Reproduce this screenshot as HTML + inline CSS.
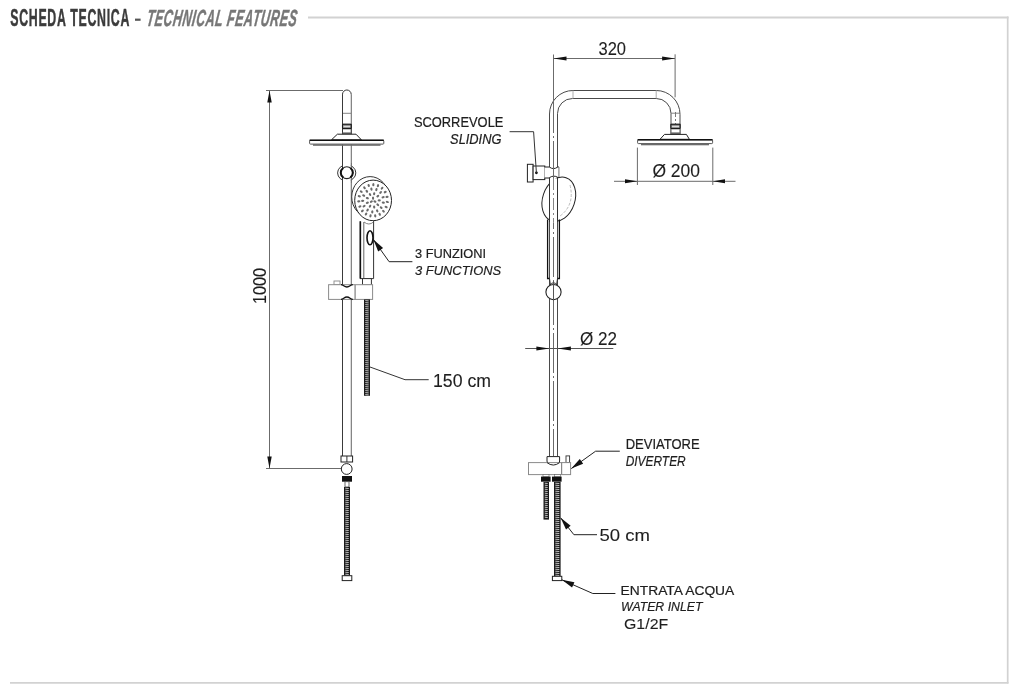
<!DOCTYPE html><html><head><meta charset="utf-8"><style>html,body{margin:0;padding:0;background:#fff;width:1024px;height:698px;overflow:hidden}svg{display:block;will-change:transform}text{font-family:"Liberation Sans",sans-serif}</style></head><body>
<svg width="1024" height="698" viewBox="0 0 1024 698">
<g fill="none" stroke="#d2d2d2">
<line x1="308" y1="17.6" x2="1008.5" y2="17.6" stroke-width="2"/>
<line x1="1007.7" y1="16.6" x2="1007.7" y2="683.6" stroke-width="1.7"/>
<line x1="10" y1="682.8" x2="1008.5" y2="682.8" stroke-width="1.7"/>
</g>
<text transform="translate(10.2 25.8) scale(0.53 1)" x="0" y="0" font-size="23.3" font-weight="bold" fill="#3b3b3b" stroke="#3b3b3b" stroke-width="0.5" textLength="224.9" lengthAdjust="spacing">SCHEDA TECNICA</text>
<rect x="135" y="18.6" width="5.6" height="2.2" fill="#555"/>
<text transform="translate(145.9 25.8) skewX(-8) scale(0.53 1)" x="0" y="0" font-size="23.3" font-weight="bold" font-style="italic" fill="#777" stroke="#777" stroke-width="0.5" textLength="283.4" lengthAdjust="spacing">TECHNICAL FEATURES</text>
<g stroke="#6b6b6b" stroke-width="1" fill="none">
<line x1="269.5" y1="91" x2="269.5" y2="468"/>
<line x1="266" y1="90.5" x2="343" y2="90.5"/>
<line x1="266" y1="468.5" x2="341" y2="468.5"/>
</g>
<polygon points="269.50,90.50 271.70,102.50 267.30,102.50" fill="#111"/>
<polygon points="269.50,468.50 267.30,456.50 271.70,456.50" fill="#111"/>
<text transform="translate(266,304) rotate(-90)" font-size="18" fill="#1e1e1e" stroke="#1e1e1e" stroke-width="0.1" textLength="36" lengthAdjust="spacingAndGlyphs">1000</text>
<path d="M342.5 456 V94.35 A4.35 4.35 0 0 1 351.2 94.35" stroke="#333" stroke-width="1" fill="none"/>
<line x1="342.5" y1="94.35" x2="342.5" y2="456" stroke="#3a3a3a" stroke-width="1"/>
<line x1="351.3" y1="94.35" x2="351.3" y2="456" stroke="#707070" stroke-width="1.1"/>
<line x1="343" y1="113.3" x2="351" y2="113.3" stroke="#777" stroke-width="0.9"/>
<rect x="342.5" y="124.3" width="8.70" height="9.9" fill="#fff" stroke="#333" stroke-width="1"/>
<rect x="342.5" y="124.3" width="8.70" height="4.3" rx="0.8" fill="#8a8a8a" stroke="#1a1a1a" stroke-width="1.1"/>
<rect x="343.50" y="125.9" width="6.70" height="1.2" fill="#ddd"/>
<rect x="342.5" y="132.4" width="8.70" height="1.9" fill="#666"/>
<polygon points="337.4,134.2 356,134.2 361.4,139.8 331.5,139.8" fill="#fff" stroke="#222" stroke-width="1"/>
<rect x="309.6" y="140.3" width="74.2" height="3.8" rx="0.8" fill="#fff" stroke="#555" stroke-width="1"/>
<line x1="309.6" y1="140.3" x2="383.8" y2="140.3" stroke="#111" stroke-width="1.4"/>
<rect x="313" y="144.2" width="67.5" height="1.6" fill="#6a6a6a"/>
<ellipse cx="346.7" cy="172.9" rx="9.1" ry="8.1" fill="#fff" stroke="#333" stroke-width="1"/>
<rect x="343" y="163" width="7.8" height="20" fill="#fff"/>
<line x1="342.5" y1="163" x2="342.5" y2="183" stroke="#3a3a3a" stroke-width="1"/>
<line x1="351.3" y1="163" x2="351.3" y2="183" stroke="#707070" stroke-width="1.1"/>
<ellipse cx="346.8" cy="172.7" rx="6.1" ry="5.9" fill="#fff" stroke="#222" stroke-width="1.1"/>
<path d="M343.2 168 A6.1 5.9 0 0 0 343.2 177.4" stroke="#111" stroke-width="2" fill="none"/>
<path d="M350.4 168 A6.1 5.9 0 0 1 350.4 177.4" stroke="#111" stroke-width="2" fill="none"/>
<ellipse cx="370.1" cy="196.9" rx="18.4" ry="20.3" fill="#fff" stroke="#333" stroke-width="1"/>
<ellipse cx="373.1" cy="200.4" rx="18.4" ry="20.3" fill="#fff" stroke="#222" stroke-width="1"/>
<ellipse cx="374.90" cy="201.48" rx="1.1" ry="1.6" transform="rotate(118.6 374.90 201.48)" fill="#6a6a6a"/>
<ellipse cx="371.35" cy="201.57" rx="1.1" ry="1.6" transform="rotate(238.6 371.35 201.57)" fill="#6a6a6a"/>
<ellipse cx="373.05" cy="198.16" rx="1.1" ry="1.6" transform="rotate(358.6 373.05 198.16)" fill="#6a6a6a"/>
<ellipse cx="379.24" cy="200.40" rx="1.1" ry="1.6" transform="rotate(90.0 379.24 200.40)" fill="#6a6a6a"/>
<ellipse cx="377.80" cy="204.73" rx="1.1" ry="1.6" transform="rotate(130.0 377.80 204.73)" fill="#6a6a6a"/>
<ellipse cx="374.17" cy="207.03" rx="1.1" ry="1.6" transform="rotate(170.0 374.17 207.03)" fill="#6a6a6a"/>
<ellipse cx="370.03" cy="206.23" rx="1.1" ry="1.6" transform="rotate(210.0 370.03 206.23)" fill="#6a6a6a"/>
<ellipse cx="367.33" cy="202.70" rx="1.1" ry="1.6" transform="rotate(250.0 367.33 202.70)" fill="#6a6a6a"/>
<ellipse cx="367.33" cy="198.10" rx="1.1" ry="1.6" transform="rotate(290.0 367.33 198.10)" fill="#6a6a6a"/>
<ellipse cx="370.03" cy="194.57" rx="1.1" ry="1.6" transform="rotate(330.0 370.03 194.57)" fill="#6a6a6a"/>
<ellipse cx="374.17" cy="193.77" rx="1.1" ry="1.6" transform="rotate(370.0 374.17 193.77)" fill="#6a6a6a"/>
<ellipse cx="377.80" cy="196.07" rx="1.1" ry="1.6" transform="rotate(410.0 377.80 196.07)" fill="#6a6a6a"/>
<ellipse cx="383.31" cy="202.67" rx="1.1" ry="1.6" transform="rotate(101.5 383.31 202.67)" fill="#6a6a6a"/>
<ellipse cx="381.18" cy="207.61" rx="1.1" ry="1.6" transform="rotate(129.2 381.18 207.61)" fill="#6a6a6a"/>
<ellipse cx="377.20" cy="210.90" rx="1.1" ry="1.6" transform="rotate(156.8 377.20 210.90)" fill="#6a6a6a"/>
<ellipse cx="372.28" cy="211.79" rx="1.1" ry="1.6" transform="rotate(184.5 372.28 211.79)" fill="#6a6a6a"/>
<ellipse cx="367.55" cy="210.06" rx="1.1" ry="1.6" transform="rotate(212.2 367.55 210.06)" fill="#6a6a6a"/>
<ellipse cx="364.09" cy="206.13" rx="1.1" ry="1.6" transform="rotate(239.9 364.09 206.13)" fill="#6a6a6a"/>
<ellipse cx="362.69" cy="200.88" rx="1.1" ry="1.6" transform="rotate(267.6 362.69 200.88)" fill="#6a6a6a"/>
<ellipse cx="363.68" cy="195.52" rx="1.1" ry="1.6" transform="rotate(295.3 363.68 195.52)" fill="#6a6a6a"/>
<ellipse cx="366.83" cy="191.28" rx="1.1" ry="1.6" transform="rotate(323.0 366.83 191.28)" fill="#6a6a6a"/>
<ellipse cx="371.41" cy="189.13" rx="1.1" ry="1.6" transform="rotate(350.7 371.41 189.13)" fill="#6a6a6a"/>
<ellipse cx="376.38" cy="189.56" rx="1.1" ry="1.6" transform="rotate(378.4 376.38 189.56)" fill="#6a6a6a"/>
<ellipse cx="380.60" cy="192.47" rx="1.1" ry="1.6" transform="rotate(406.1 380.60 192.47)" fill="#6a6a6a"/>
<ellipse cx="383.10" cy="197.21" rx="1.1" ry="1.6" transform="rotate(433.8 383.10 197.21)" fill="#6a6a6a"/>
<ellipse cx="387.35" cy="201.97" rx="1.1" ry="1.6" transform="rotate(95.7 387.35 201.97)" fill="#6a6a6a"/>
<ellipse cx="386.11" cy="206.96" rx="1.1" ry="1.6" transform="rotate(114.7 386.11 206.96)" fill="#6a6a6a"/>
<ellipse cx="383.47" cy="211.24" rx="1.1" ry="1.6" transform="rotate(133.6 383.47 211.24)" fill="#6a6a6a"/>
<ellipse cx="379.70" cy="214.34" rx="1.1" ry="1.6" transform="rotate(152.6 379.70 214.34)" fill="#6a6a6a"/>
<ellipse cx="375.21" cy="215.94" rx="1.1" ry="1.6" transform="rotate(171.5 375.21 215.94)" fill="#6a6a6a"/>
<ellipse cx="370.50" cy="215.85" rx="1.1" ry="1.6" transform="rotate(190.5 370.50 215.85)" fill="#6a6a6a"/>
<ellipse cx="366.07" cy="214.08" rx="1.1" ry="1.6" transform="rotate(209.4 366.07 214.08)" fill="#6a6a6a"/>
<ellipse cx="362.40" cy="210.84" rx="1.1" ry="1.6" transform="rotate(228.4 362.40 210.84)" fill="#6a6a6a"/>
<ellipse cx="359.89" cy="206.46" rx="1.1" ry="1.6" transform="rotate(247.3 359.89 206.46)" fill="#6a6a6a"/>
<ellipse cx="358.81" cy="201.43" rx="1.1" ry="1.6" transform="rotate(266.3 358.81 201.43)" fill="#6a6a6a"/>
<ellipse cx="359.28" cy="196.28" rx="1.1" ry="1.6" transform="rotate(285.2 359.28 196.28)" fill="#6a6a6a"/>
<ellipse cx="361.25" cy="191.58" rx="1.1" ry="1.6" transform="rotate(304.2 361.25 191.58)" fill="#6a6a6a"/>
<ellipse cx="364.50" cy="187.84" rx="1.1" ry="1.6" transform="rotate(323.1 364.50 187.84)" fill="#6a6a6a"/>
<ellipse cx="368.69" cy="185.46" rx="1.1" ry="1.6" transform="rotate(342.0 368.69 185.46)" fill="#6a6a6a"/>
<ellipse cx="373.35" cy="184.69" rx="1.1" ry="1.6" transform="rotate(361.0 373.35 184.69)" fill="#6a6a6a"/>
<ellipse cx="377.98" cy="185.63" rx="1.1" ry="1.6" transform="rotate(379.9 377.98 185.63)" fill="#6a6a6a"/>
<ellipse cx="382.09" cy="188.17" rx="1.1" ry="1.6" transform="rotate(398.9 382.09 188.17)" fill="#6a6a6a"/>
<ellipse cx="385.22" cy="192.04" rx="1.1" ry="1.6" transform="rotate(417.8 385.22 192.04)" fill="#6a6a6a"/>
<ellipse cx="387.04" cy="196.81" rx="1.1" ry="1.6" transform="rotate(436.8 387.04 196.81)" fill="#6a6a6a"/>
<path d="M360.2 221 V278.6 H373.6 V221" fill="#fff" stroke="#333" stroke-width="1"/>
<line x1="360.4" y1="221.5" x2="360.4" y2="278.6" stroke="#111" stroke-width="1.5"/>
<line x1="363.8" y1="222" x2="363.8" y2="278" stroke="#555" stroke-width="0.9"/>
<path d="M364 222 Q369 226 373.4 222" stroke="#666" stroke-width="0.8" fill="none"/>
<ellipse cx="370" cy="237.8" rx="3" ry="7" fill="#fff" stroke="#111" stroke-width="1.6"/>
<rect x="362.5" y="278.6" width="8.9" height="6.4" fill="#fff" stroke="#333" stroke-width="1"/>
<rect x="334" y="281" width="6" height="3.7" fill="#fff" stroke="#888" stroke-width="0.9"/>
<rect x="328.6" y="284.7" width="44" height="14.7" fill="#fff" stroke="#8a8a8a" stroke-width="1"/>
<line x1="355.1" y1="284.7" x2="355.1" y2="299.4" stroke="#888" stroke-width="1.3"/>
<path d="M341 284.7 C343.5 284.7 344 287 346.9 287 C349.8 287 350.3 284.7 352.8 284.7" stroke="#111" stroke-width="1.3" fill="none"/>
<path d="M341 299.4 C343.5 299.4 344 297 346.9 297 C349.8 297 350.3 299.4 352.8 299.4" stroke="#111" stroke-width="1.3" fill="none"/>
<rect x="364" y="299.4" width="6" height="96.40000000000003" fill="#1a1a1a"/>
<line x1="365.30" y1="300.60" x2="368.70" y2="300.90" stroke="#e4e4e4" stroke-width="0.85"/>
<line x1="365.30" y1="302.60" x2="368.70" y2="302.90" stroke="#e4e4e4" stroke-width="0.85"/>
<line x1="365.30" y1="304.60" x2="368.70" y2="304.90" stroke="#e4e4e4" stroke-width="0.85"/>
<line x1="365.30" y1="306.60" x2="368.70" y2="306.90" stroke="#e4e4e4" stroke-width="0.85"/>
<line x1="365.30" y1="308.60" x2="368.70" y2="308.90" stroke="#e4e4e4" stroke-width="0.85"/>
<line x1="365.30" y1="310.60" x2="368.70" y2="310.90" stroke="#e4e4e4" stroke-width="0.85"/>
<line x1="365.30" y1="312.60" x2="368.70" y2="312.90" stroke="#e4e4e4" stroke-width="0.85"/>
<line x1="365.30" y1="314.60" x2="368.70" y2="314.90" stroke="#e4e4e4" stroke-width="0.85"/>
<line x1="365.30" y1="316.60" x2="368.70" y2="316.90" stroke="#e4e4e4" stroke-width="0.85"/>
<line x1="365.30" y1="318.60" x2="368.70" y2="318.90" stroke="#e4e4e4" stroke-width="0.85"/>
<line x1="365.30" y1="320.60" x2="368.70" y2="320.90" stroke="#e4e4e4" stroke-width="0.85"/>
<line x1="365.30" y1="322.60" x2="368.70" y2="322.90" stroke="#e4e4e4" stroke-width="0.85"/>
<line x1="365.30" y1="324.60" x2="368.70" y2="324.90" stroke="#e4e4e4" stroke-width="0.85"/>
<line x1="365.30" y1="326.60" x2="368.70" y2="326.90" stroke="#e4e4e4" stroke-width="0.85"/>
<line x1="365.30" y1="328.60" x2="368.70" y2="328.90" stroke="#e4e4e4" stroke-width="0.85"/>
<line x1="365.30" y1="330.60" x2="368.70" y2="330.90" stroke="#e4e4e4" stroke-width="0.85"/>
<line x1="365.30" y1="332.60" x2="368.70" y2="332.90" stroke="#e4e4e4" stroke-width="0.85"/>
<line x1="365.30" y1="334.60" x2="368.70" y2="334.90" stroke="#e4e4e4" stroke-width="0.85"/>
<line x1="365.30" y1="336.60" x2="368.70" y2="336.90" stroke="#e4e4e4" stroke-width="0.85"/>
<line x1="365.30" y1="338.60" x2="368.70" y2="338.90" stroke="#e4e4e4" stroke-width="0.85"/>
<line x1="365.30" y1="340.60" x2="368.70" y2="340.90" stroke="#e4e4e4" stroke-width="0.85"/>
<line x1="365.30" y1="342.60" x2="368.70" y2="342.90" stroke="#e4e4e4" stroke-width="0.85"/>
<line x1="365.30" y1="344.60" x2="368.70" y2="344.90" stroke="#e4e4e4" stroke-width="0.85"/>
<line x1="365.30" y1="346.60" x2="368.70" y2="346.90" stroke="#e4e4e4" stroke-width="0.85"/>
<line x1="365.30" y1="348.60" x2="368.70" y2="348.90" stroke="#e4e4e4" stroke-width="0.85"/>
<line x1="365.30" y1="350.60" x2="368.70" y2="350.90" stroke="#e4e4e4" stroke-width="0.85"/>
<line x1="365.30" y1="352.60" x2="368.70" y2="352.90" stroke="#e4e4e4" stroke-width="0.85"/>
<line x1="365.30" y1="354.60" x2="368.70" y2="354.90" stroke="#e4e4e4" stroke-width="0.85"/>
<line x1="365.30" y1="356.60" x2="368.70" y2="356.90" stroke="#e4e4e4" stroke-width="0.85"/>
<line x1="365.30" y1="358.60" x2="368.70" y2="358.90" stroke="#e4e4e4" stroke-width="0.85"/>
<line x1="365.30" y1="360.60" x2="368.70" y2="360.90" stroke="#e4e4e4" stroke-width="0.85"/>
<line x1="365.30" y1="362.60" x2="368.70" y2="362.90" stroke="#e4e4e4" stroke-width="0.85"/>
<line x1="365.30" y1="364.60" x2="368.70" y2="364.90" stroke="#e4e4e4" stroke-width="0.85"/>
<line x1="365.30" y1="366.60" x2="368.70" y2="366.90" stroke="#e4e4e4" stroke-width="0.85"/>
<line x1="365.30" y1="368.60" x2="368.70" y2="368.90" stroke="#e4e4e4" stroke-width="0.85"/>
<line x1="365.30" y1="370.60" x2="368.70" y2="370.90" stroke="#e4e4e4" stroke-width="0.85"/>
<line x1="365.30" y1="372.60" x2="368.70" y2="372.90" stroke="#e4e4e4" stroke-width="0.85"/>
<line x1="365.30" y1="374.60" x2="368.70" y2="374.90" stroke="#e4e4e4" stroke-width="0.85"/>
<line x1="365.30" y1="376.60" x2="368.70" y2="376.90" stroke="#e4e4e4" stroke-width="0.85"/>
<line x1="365.30" y1="378.60" x2="368.70" y2="378.90" stroke="#e4e4e4" stroke-width="0.85"/>
<line x1="365.30" y1="380.60" x2="368.70" y2="380.90" stroke="#e4e4e4" stroke-width="0.85"/>
<line x1="365.30" y1="382.60" x2="368.70" y2="382.90" stroke="#e4e4e4" stroke-width="0.85"/>
<line x1="365.30" y1="384.60" x2="368.70" y2="384.90" stroke="#e4e4e4" stroke-width="0.85"/>
<line x1="365.30" y1="386.60" x2="368.70" y2="386.90" stroke="#e4e4e4" stroke-width="0.85"/>
<line x1="365.30" y1="388.60" x2="368.70" y2="388.90" stroke="#e4e4e4" stroke-width="0.85"/>
<line x1="365.30" y1="390.60" x2="368.70" y2="390.90" stroke="#e4e4e4" stroke-width="0.85"/>
<line x1="365.30" y1="392.60" x2="368.70" y2="392.90" stroke="#e4e4e4" stroke-width="0.85"/>
<line x1="365.30" y1="394.60" x2="368.70" y2="394.90" stroke="#e4e4e4" stroke-width="0.85"/>
<rect x="341" y="456" width="11.6" height="6" fill="#fff" stroke="#222" stroke-width="1"/>
<line x1="346.9" y1="456" x2="346.9" y2="462" stroke="#333" stroke-width="1"/>
<circle cx="346.7" cy="469" r="5.4" fill="#fff" stroke="#222" stroke-width="1"/>
<rect x="342" y="476" width="10" height="5.7" fill="#111"/>
<rect x="345" y="481.7" width="4" height="5.3" fill="#fff" stroke="#444" stroke-width="0.8"/>
<rect x="344" y="487" width="6" height="88.70000000000005" fill="#1a1a1a"/>
<line x1="345.30" y1="488.20" x2="348.70" y2="488.50" stroke="#e4e4e4" stroke-width="0.85"/>
<line x1="345.30" y1="490.20" x2="348.70" y2="490.50" stroke="#e4e4e4" stroke-width="0.85"/>
<line x1="345.30" y1="492.20" x2="348.70" y2="492.50" stroke="#e4e4e4" stroke-width="0.85"/>
<line x1="345.30" y1="494.20" x2="348.70" y2="494.50" stroke="#e4e4e4" stroke-width="0.85"/>
<line x1="345.30" y1="496.20" x2="348.70" y2="496.50" stroke="#e4e4e4" stroke-width="0.85"/>
<line x1="345.30" y1="498.20" x2="348.70" y2="498.50" stroke="#e4e4e4" stroke-width="0.85"/>
<line x1="345.30" y1="500.20" x2="348.70" y2="500.50" stroke="#e4e4e4" stroke-width="0.85"/>
<line x1="345.30" y1="502.20" x2="348.70" y2="502.50" stroke="#e4e4e4" stroke-width="0.85"/>
<line x1="345.30" y1="504.20" x2="348.70" y2="504.50" stroke="#e4e4e4" stroke-width="0.85"/>
<line x1="345.30" y1="506.20" x2="348.70" y2="506.50" stroke="#e4e4e4" stroke-width="0.85"/>
<line x1="345.30" y1="508.20" x2="348.70" y2="508.50" stroke="#e4e4e4" stroke-width="0.85"/>
<line x1="345.30" y1="510.20" x2="348.70" y2="510.50" stroke="#e4e4e4" stroke-width="0.85"/>
<line x1="345.30" y1="512.20" x2="348.70" y2="512.50" stroke="#e4e4e4" stroke-width="0.85"/>
<line x1="345.30" y1="514.20" x2="348.70" y2="514.50" stroke="#e4e4e4" stroke-width="0.85"/>
<line x1="345.30" y1="516.20" x2="348.70" y2="516.50" stroke="#e4e4e4" stroke-width="0.85"/>
<line x1="345.30" y1="518.20" x2="348.70" y2="518.50" stroke="#e4e4e4" stroke-width="0.85"/>
<line x1="345.30" y1="520.20" x2="348.70" y2="520.50" stroke="#e4e4e4" stroke-width="0.85"/>
<line x1="345.30" y1="522.20" x2="348.70" y2="522.50" stroke="#e4e4e4" stroke-width="0.85"/>
<line x1="345.30" y1="524.20" x2="348.70" y2="524.50" stroke="#e4e4e4" stroke-width="0.85"/>
<line x1="345.30" y1="526.20" x2="348.70" y2="526.50" stroke="#e4e4e4" stroke-width="0.85"/>
<line x1="345.30" y1="528.20" x2="348.70" y2="528.50" stroke="#e4e4e4" stroke-width="0.85"/>
<line x1="345.30" y1="530.20" x2="348.70" y2="530.50" stroke="#e4e4e4" stroke-width="0.85"/>
<line x1="345.30" y1="532.20" x2="348.70" y2="532.50" stroke="#e4e4e4" stroke-width="0.85"/>
<line x1="345.30" y1="534.20" x2="348.70" y2="534.50" stroke="#e4e4e4" stroke-width="0.85"/>
<line x1="345.30" y1="536.20" x2="348.70" y2="536.50" stroke="#e4e4e4" stroke-width="0.85"/>
<line x1="345.30" y1="538.20" x2="348.70" y2="538.50" stroke="#e4e4e4" stroke-width="0.85"/>
<line x1="345.30" y1="540.20" x2="348.70" y2="540.50" stroke="#e4e4e4" stroke-width="0.85"/>
<line x1="345.30" y1="542.20" x2="348.70" y2="542.50" stroke="#e4e4e4" stroke-width="0.85"/>
<line x1="345.30" y1="544.20" x2="348.70" y2="544.50" stroke="#e4e4e4" stroke-width="0.85"/>
<line x1="345.30" y1="546.20" x2="348.70" y2="546.50" stroke="#e4e4e4" stroke-width="0.85"/>
<line x1="345.30" y1="548.20" x2="348.70" y2="548.50" stroke="#e4e4e4" stroke-width="0.85"/>
<line x1="345.30" y1="550.20" x2="348.70" y2="550.50" stroke="#e4e4e4" stroke-width="0.85"/>
<line x1="345.30" y1="552.20" x2="348.70" y2="552.50" stroke="#e4e4e4" stroke-width="0.85"/>
<line x1="345.30" y1="554.20" x2="348.70" y2="554.50" stroke="#e4e4e4" stroke-width="0.85"/>
<line x1="345.30" y1="556.20" x2="348.70" y2="556.50" stroke="#e4e4e4" stroke-width="0.85"/>
<line x1="345.30" y1="558.20" x2="348.70" y2="558.50" stroke="#e4e4e4" stroke-width="0.85"/>
<line x1="345.30" y1="560.20" x2="348.70" y2="560.50" stroke="#e4e4e4" stroke-width="0.85"/>
<line x1="345.30" y1="562.20" x2="348.70" y2="562.50" stroke="#e4e4e4" stroke-width="0.85"/>
<line x1="345.30" y1="564.20" x2="348.70" y2="564.50" stroke="#e4e4e4" stroke-width="0.85"/>
<line x1="345.30" y1="566.20" x2="348.70" y2="566.50" stroke="#e4e4e4" stroke-width="0.85"/>
<line x1="345.30" y1="568.20" x2="348.70" y2="568.50" stroke="#e4e4e4" stroke-width="0.85"/>
<line x1="345.30" y1="570.20" x2="348.70" y2="570.50" stroke="#e4e4e4" stroke-width="0.85"/>
<line x1="345.30" y1="572.20" x2="348.70" y2="572.50" stroke="#e4e4e4" stroke-width="0.85"/>
<line x1="345.30" y1="574.20" x2="348.70" y2="574.50" stroke="#e4e4e4" stroke-width="0.85"/>
<rect x="342.2" y="575.7" width="9.6" height="4.9" fill="#fff" stroke="#222" stroke-width="1"/>
<polyline points="373.4,239.6 389.1,261.7 412.4,261.7" fill="none" stroke="#222" stroke-width="1"/>
<polygon points="373.40,239.60 383.08,248.05 378.19,251.53" fill="#111"/>
<polyline points="370,367 405,379.7 428.7,379.7" fill="none" stroke="#333" stroke-width="1"/>
<text x="415.1" y="258" font-size="13.5" fill="#1e1e1e" stroke="#1e1e1e" stroke-width="0.22" textLength="71" lengthAdjust="spacingAndGlyphs">3 FUNZIONI</text>
<text x="415.1" y="275.1" font-size="13.5" font-style="italic" fill="#1e1e1e" stroke="#1e1e1e" stroke-width="0.22" textLength="86" lengthAdjust="spacingAndGlyphs">3 FUNCTIONS</text>
<text x="433" y="386.6" font-size="17.5" fill="#1e1e1e" stroke="#1e1e1e" stroke-width="0.1" textLength="58" lengthAdjust="spacingAndGlyphs">150 cm</text>
<g stroke="#4a4a4a" stroke-width="1" fill="none">
<path d="M549.5 456.6 V114 A23.5 23.5 0 0 1 573 90.5 H656.2 A23.8 23.8 0 0 1 680 114.3 V124.5"/>
<path d="M557.5 456.6 V113.6 A15 15 0 0 1 572.5 98.5 H656.2 A14.8 14.8 0 0 1 671 113.3 V124.5"/>
</g>
<line x1="573" y1="90.2" x2="573" y2="98.6" stroke="#999" stroke-width="0.8"/>
<line x1="656.2" y1="90.2" x2="656.2" y2="98.4" stroke="#999" stroke-width="0.8"/>
<line x1="553.5" y1="100" x2="553.5" y2="456" stroke="#6a6a6a" stroke-width="1" stroke-dasharray="40 3 2 3" stroke-dashoffset="7"/>
<line x1="675.5" y1="112" x2="675.5" y2="134" stroke="#555" stroke-width="0.8" stroke-dasharray="5 2 2 2"/>
<line x1="671" y1="113.2" x2="680" y2="113.2" stroke="#777" stroke-width="0.9"/>
<rect x="670.9" y="124.3" width="9.20" height="9.9" fill="#fff" stroke="#333" stroke-width="1"/>
<rect x="670.9" y="124.3" width="9.20" height="4.3" rx="0.8" fill="#8a8a8a" stroke="#1a1a1a" stroke-width="1.1"/>
<rect x="671.90" y="125.9" width="7.20" height="1.2" fill="#ddd"/>
<rect x="670.9" y="132.4" width="9.20" height="1.9" fill="#666"/>
<polygon points="664.5,134.4 686.4,134.4 689.4,139.3 660,139.3" fill="#fff" stroke="#222" stroke-width="1"/>
<rect x="637.6" y="139.8" width="75" height="3.8" rx="0.8" fill="#fff" stroke="#555" stroke-width="1"/>
<line x1="637.6" y1="139.8" x2="712.6" y2="139.8" stroke="#111" stroke-width="1.4"/>
<rect x="641" y="143.7" width="68" height="1.6" fill="#6a6a6a"/>
<g stroke="#6b6b6b" stroke-width="1" fill="none">
<line x1="553.5" y1="54.5" x2="553.5" y2="100"/>
<line x1="675.1" y1="54.3" x2="675.1" y2="97.3"/>
<line x1="554" y1="58.5" x2="675" y2="58.5"/>
</g>
<polygon points="553.50,58.50 566.50,56.50 566.50,60.50" fill="#111"/>
<polygon points="675.10,58.50 662.10,60.50 662.10,56.50" fill="#111"/>
<text x="598.5" y="55" font-size="17.5" fill="#1e1e1e" stroke="#1e1e1e" stroke-width="0.1" textLength="27.5" lengthAdjust="spacingAndGlyphs">320</text>
<g stroke="#6b6b6b" stroke-width="1" fill="none">
<line x1="637.4" y1="147.6" x2="637.4" y2="185"/>
<line x1="712.8" y1="147.6" x2="712.8" y2="185"/>
<line x1="614" y1="181.3" x2="735.5" y2="181.3"/>
</g>
<polygon points="637.40,181.30 625.00,183.30 625.00,179.30" fill="#111"/>
<polygon points="712.80,181.30 725.00,179.30 725.00,183.30" fill="#111"/>
<text x="652.4" y="176.5" font-size="17.5" fill="#1e1e1e" stroke="#1e1e1e" stroke-width="0.1" textLength="47.6" lengthAdjust="spacingAndGlyphs">Ø 200</text>
<rect x="527.4" y="164.3" width="5.7" height="17.7" fill="#fff" stroke="#222" stroke-width="1"/>
<rect x="533.1" y="166" width="11.7" height="13.6" fill="#fff" stroke="#222" stroke-width="1"/>
<circle cx="536.4" cy="172.8" r="1.4" fill="#111"/>
<path d="M544.5 167 H549.3 Q553.5 170 557.8 167 H559 V177.5 Q557 178.2 555.5 177.5 Q553.5 175 551 177.5 Q550 178 549 178 H544.5 Z" fill="#fff" stroke="none"/>
<path d="M544.5 167 H549.3 Q553.5 170.2 557.8 167 H559" stroke="#222" stroke-width="1" fill="none"/>
<path d="M544.5 178 H549 Q553.5 174.5 558 177.5 L559 177.5" stroke="#222" stroke-width="1" fill="none"/>
<line x1="558.9" y1="167" x2="558.9" y2="177.5" stroke="#888" stroke-width="1.2"/>
<line x1="553.5" y1="160" x2="553.5" y2="182" stroke="#6a6a6a" stroke-width="1"/>
<polyline points="509.6,131.7 533.6,131.7 536.4,172.7" fill="none" stroke="#333" stroke-width="1"/>
<text x="413.9" y="126.5" font-size="14" fill="#1e1e1e" stroke="#1e1e1e" stroke-width="0.22" textLength="89.5" lengthAdjust="spacingAndGlyphs">SCORREVOLE</text>
<text x="450.1" y="143.6" font-size="14" font-style="italic" fill="#1e1e1e" stroke="#1e1e1e" stroke-width="0.22" textLength="51.3" lengthAdjust="spacingAndGlyphs">SLIDING</text>
<g>
<ellipse cx="558.8" cy="199.2" rx="16.1" ry="22.7" transform="rotate(18.6 558.8 199.2)" fill="#fff" stroke="#222" stroke-width="1"/>
<path d="M570 185 Q575 205 560 216" stroke="#aaa" stroke-width="0.8" fill="none" stroke-dasharray="3 1.5"/>
<rect x="550" y="178.3" width="7" height="44" fill="#fff"/>
<line x1="549.5" y1="178" x2="549.5" y2="222" stroke="#333" stroke-width="1"/>
<line x1="557.5" y1="178" x2="557.5" y2="222" stroke="#333" stroke-width="1"/>
<line x1="553.5" y1="178" x2="553.5" y2="222" stroke="#777" stroke-width="0.9" stroke-dasharray="12 3 2 3"/>
</g>
<path d="M547.6 219.5 V278.5 H549.5 M559.4 219.5 V278.5 H557.5" stroke="#111" stroke-width="1.3" fill="none"/>
<path d="M549.5 278.5 L550.5 285.5 M557.5 278.5 L556.5 285.5" stroke="#333" stroke-width="1" fill="none"/>
<path d="M549.8 285 Q553.5 280.5 557.2 285" stroke="#333" stroke-width="1" fill="none"/>
<circle cx="553.5" cy="292.1" r="7.6" fill="#fff" stroke="#222" stroke-width="1.1"/>
<line x1="553.5" y1="281" x2="553.5" y2="300" stroke="#555" stroke-width="1"/>
<line x1="525.2" y1="348.5" x2="613.3" y2="348.5" stroke="#555" stroke-width="1"/>
<polygon points="549.40,348.50 536.40,350.60 536.40,346.40" fill="#111"/>
<polygon points="557.60,348.50 570.90,346.40 570.90,350.60" fill="#111"/>
<text x="580" y="344.7" font-size="17.5" fill="#1e1e1e" stroke="#1e1e1e" stroke-width="0.1" textLength="37" lengthAdjust="spacingAndGlyphs">Ø 22</text>
<path d="M547 456.6 H559.6 V461 Q559.6 465.5 553.3 465.5 Q547 465.5 547 461 Z" fill="#fff" stroke="#222" stroke-width="1"/>
<rect x="566" y="455.9" width="3.6" height="6.7" fill="#fff" stroke="#333" stroke-width="0.9"/>
<rect x="528.5" y="462.6" width="42.1" height="12" fill="#fff" stroke="#8a8a8a" stroke-width="1"/>
<path d="M547 462.6 Q553.3 467.5 559.6 462.6" stroke="#222" stroke-width="1" fill="none"/>
<line x1="561.6" y1="462.6" x2="561.6" y2="474.6" stroke="#888" stroke-width="1.2"/>
<rect x="543" y="474.6" width="6" height="2.2" fill="#fff" stroke="#666" stroke-width="0.6"/>
<rect x="554.5" y="474.6" width="6" height="2.2" fill="#fff" stroke="#666" stroke-width="0.6"/>
<rect x="541" y="476.6" width="9.6" height="5.1" fill="#111"/>
<rect x="552" y="476.6" width="9.6" height="5.1" fill="#111"/>
<rect x="543.5" y="482" width="5.5" height="37.60000000000002" fill="#1a1a1a"/>
<line x1="544.80" y1="483.20" x2="547.70" y2="483.50" stroke="#e4e4e4" stroke-width="0.85"/>
<line x1="544.80" y1="485.20" x2="547.70" y2="485.50" stroke="#e4e4e4" stroke-width="0.85"/>
<line x1="544.80" y1="487.20" x2="547.70" y2="487.50" stroke="#e4e4e4" stroke-width="0.85"/>
<line x1="544.80" y1="489.20" x2="547.70" y2="489.50" stroke="#e4e4e4" stroke-width="0.85"/>
<line x1="544.80" y1="491.20" x2="547.70" y2="491.50" stroke="#e4e4e4" stroke-width="0.85"/>
<line x1="544.80" y1="493.20" x2="547.70" y2="493.50" stroke="#e4e4e4" stroke-width="0.85"/>
<line x1="544.80" y1="495.20" x2="547.70" y2="495.50" stroke="#e4e4e4" stroke-width="0.85"/>
<line x1="544.80" y1="497.20" x2="547.70" y2="497.50" stroke="#e4e4e4" stroke-width="0.85"/>
<line x1="544.80" y1="499.20" x2="547.70" y2="499.50" stroke="#e4e4e4" stroke-width="0.85"/>
<line x1="544.80" y1="501.20" x2="547.70" y2="501.50" stroke="#e4e4e4" stroke-width="0.85"/>
<line x1="544.80" y1="503.20" x2="547.70" y2="503.50" stroke="#e4e4e4" stroke-width="0.85"/>
<line x1="544.80" y1="505.20" x2="547.70" y2="505.50" stroke="#e4e4e4" stroke-width="0.85"/>
<line x1="544.80" y1="507.20" x2="547.70" y2="507.50" stroke="#e4e4e4" stroke-width="0.85"/>
<line x1="544.80" y1="509.20" x2="547.70" y2="509.50" stroke="#e4e4e4" stroke-width="0.85"/>
<line x1="544.80" y1="511.20" x2="547.70" y2="511.50" stroke="#e4e4e4" stroke-width="0.85"/>
<line x1="544.80" y1="513.20" x2="547.70" y2="513.50" stroke="#e4e4e4" stroke-width="0.85"/>
<line x1="544.80" y1="515.20" x2="547.70" y2="515.50" stroke="#e4e4e4" stroke-width="0.85"/>
<line x1="544.80" y1="517.20" x2="547.70" y2="517.50" stroke="#e4e4e4" stroke-width="0.85"/>
<rect x="554" y="482" width="6.600000000000023" height="94.29999999999995" fill="#1a1a1a"/>
<line x1="555.30" y1="483.20" x2="559.30" y2="483.50" stroke="#e4e4e4" stroke-width="0.85"/>
<line x1="555.30" y1="485.20" x2="559.30" y2="485.50" stroke="#e4e4e4" stroke-width="0.85"/>
<line x1="555.30" y1="487.20" x2="559.30" y2="487.50" stroke="#e4e4e4" stroke-width="0.85"/>
<line x1="555.30" y1="489.20" x2="559.30" y2="489.50" stroke="#e4e4e4" stroke-width="0.85"/>
<line x1="555.30" y1="491.20" x2="559.30" y2="491.50" stroke="#e4e4e4" stroke-width="0.85"/>
<line x1="555.30" y1="493.20" x2="559.30" y2="493.50" stroke="#e4e4e4" stroke-width="0.85"/>
<line x1="555.30" y1="495.20" x2="559.30" y2="495.50" stroke="#e4e4e4" stroke-width="0.85"/>
<line x1="555.30" y1="497.20" x2="559.30" y2="497.50" stroke="#e4e4e4" stroke-width="0.85"/>
<line x1="555.30" y1="499.20" x2="559.30" y2="499.50" stroke="#e4e4e4" stroke-width="0.85"/>
<line x1="555.30" y1="501.20" x2="559.30" y2="501.50" stroke="#e4e4e4" stroke-width="0.85"/>
<line x1="555.30" y1="503.20" x2="559.30" y2="503.50" stroke="#e4e4e4" stroke-width="0.85"/>
<line x1="555.30" y1="505.20" x2="559.30" y2="505.50" stroke="#e4e4e4" stroke-width="0.85"/>
<line x1="555.30" y1="507.20" x2="559.30" y2="507.50" stroke="#e4e4e4" stroke-width="0.85"/>
<line x1="555.30" y1="509.20" x2="559.30" y2="509.50" stroke="#e4e4e4" stroke-width="0.85"/>
<line x1="555.30" y1="511.20" x2="559.30" y2="511.50" stroke="#e4e4e4" stroke-width="0.85"/>
<line x1="555.30" y1="513.20" x2="559.30" y2="513.50" stroke="#e4e4e4" stroke-width="0.85"/>
<line x1="555.30" y1="515.20" x2="559.30" y2="515.50" stroke="#e4e4e4" stroke-width="0.85"/>
<line x1="555.30" y1="517.20" x2="559.30" y2="517.50" stroke="#e4e4e4" stroke-width="0.85"/>
<line x1="555.30" y1="519.20" x2="559.30" y2="519.50" stroke="#e4e4e4" stroke-width="0.85"/>
<line x1="555.30" y1="521.20" x2="559.30" y2="521.50" stroke="#e4e4e4" stroke-width="0.85"/>
<line x1="555.30" y1="523.20" x2="559.30" y2="523.50" stroke="#e4e4e4" stroke-width="0.85"/>
<line x1="555.30" y1="525.20" x2="559.30" y2="525.50" stroke="#e4e4e4" stroke-width="0.85"/>
<line x1="555.30" y1="527.20" x2="559.30" y2="527.50" stroke="#e4e4e4" stroke-width="0.85"/>
<line x1="555.30" y1="529.20" x2="559.30" y2="529.50" stroke="#e4e4e4" stroke-width="0.85"/>
<line x1="555.30" y1="531.20" x2="559.30" y2="531.50" stroke="#e4e4e4" stroke-width="0.85"/>
<line x1="555.30" y1="533.20" x2="559.30" y2="533.50" stroke="#e4e4e4" stroke-width="0.85"/>
<line x1="555.30" y1="535.20" x2="559.30" y2="535.50" stroke="#e4e4e4" stroke-width="0.85"/>
<line x1="555.30" y1="537.20" x2="559.30" y2="537.50" stroke="#e4e4e4" stroke-width="0.85"/>
<line x1="555.30" y1="539.20" x2="559.30" y2="539.50" stroke="#e4e4e4" stroke-width="0.85"/>
<line x1="555.30" y1="541.20" x2="559.30" y2="541.50" stroke="#e4e4e4" stroke-width="0.85"/>
<line x1="555.30" y1="543.20" x2="559.30" y2="543.50" stroke="#e4e4e4" stroke-width="0.85"/>
<line x1="555.30" y1="545.20" x2="559.30" y2="545.50" stroke="#e4e4e4" stroke-width="0.85"/>
<line x1="555.30" y1="547.20" x2="559.30" y2="547.50" stroke="#e4e4e4" stroke-width="0.85"/>
<line x1="555.30" y1="549.20" x2="559.30" y2="549.50" stroke="#e4e4e4" stroke-width="0.85"/>
<line x1="555.30" y1="551.20" x2="559.30" y2="551.50" stroke="#e4e4e4" stroke-width="0.85"/>
<line x1="555.30" y1="553.20" x2="559.30" y2="553.50" stroke="#e4e4e4" stroke-width="0.85"/>
<line x1="555.30" y1="555.20" x2="559.30" y2="555.50" stroke="#e4e4e4" stroke-width="0.85"/>
<line x1="555.30" y1="557.20" x2="559.30" y2="557.50" stroke="#e4e4e4" stroke-width="0.85"/>
<line x1="555.30" y1="559.20" x2="559.30" y2="559.50" stroke="#e4e4e4" stroke-width="0.85"/>
<line x1="555.30" y1="561.20" x2="559.30" y2="561.50" stroke="#e4e4e4" stroke-width="0.85"/>
<line x1="555.30" y1="563.20" x2="559.30" y2="563.50" stroke="#e4e4e4" stroke-width="0.85"/>
<line x1="555.30" y1="565.20" x2="559.30" y2="565.50" stroke="#e4e4e4" stroke-width="0.85"/>
<line x1="555.30" y1="567.20" x2="559.30" y2="567.50" stroke="#e4e4e4" stroke-width="0.85"/>
<line x1="555.30" y1="569.20" x2="559.30" y2="569.50" stroke="#e4e4e4" stroke-width="0.85"/>
<line x1="555.30" y1="571.20" x2="559.30" y2="571.50" stroke="#e4e4e4" stroke-width="0.85"/>
<line x1="555.30" y1="573.20" x2="559.30" y2="573.50" stroke="#e4e4e4" stroke-width="0.85"/>
<line x1="555.30" y1="575.20" x2="559.30" y2="575.50" stroke="#e4e4e4" stroke-width="0.85"/>
<rect x="552.4" y="576.3" width="9.4" height="4.3" fill="#fff" stroke="#222" stroke-width="1"/>
<polyline points="571.3,468.6 595.6,451.2 619.8,451.2" fill="none" stroke="#222" stroke-width="1"/>
<polygon points="571.30,468.60 579.77,458.96 583.15,463.68" fill="#111"/>
<polyline points="560.6,517.8 573.9,534.7 597,534.7" fill="none" stroke="#222" stroke-width="1"/>
<polygon points="560.60,517.80 570.61,525.83 566.05,529.42" fill="#111"/>
<polyline points="561.8,579.8 592.8,593.5 615.4,593.5" fill="none" stroke="#222" stroke-width="1"/>
<polygon points="561.80,579.80 574.41,582.20 572.06,587.51" fill="#111"/>
<text x="625.7" y="448.9" font-size="14" fill="#1e1e1e" stroke="#1e1e1e" stroke-width="0.22" textLength="73.9" lengthAdjust="spacingAndGlyphs">DEVIATORE</text>
<text x="625.7" y="466.1" font-size="14" font-style="italic" fill="#1e1e1e" stroke="#1e1e1e" stroke-width="0.22" textLength="60" lengthAdjust="spacingAndGlyphs">DIVERTER</text>
<text x="599.5" y="540.8" font-size="17" fill="#1e1e1e" stroke="#1e1e1e" stroke-width="0.1" textLength="50.5" lengthAdjust="spacingAndGlyphs">50 cm</text>
<text x="620.6" y="594.7" font-size="13.3" fill="#1e1e1e" stroke="#1e1e1e" stroke-width="0.22" textLength="113.7" lengthAdjust="spacingAndGlyphs">ENTRATA ACQUA</text>
<text x="621" y="611" font-size="13.3" font-style="italic" fill="#1e1e1e" stroke="#1e1e1e" stroke-width="0.22" textLength="81.5" lengthAdjust="spacingAndGlyphs">WATER INLET</text>
<text x="624" y="629" font-size="15.5" fill="#1e1e1e" stroke="#1e1e1e" stroke-width="0.1" textLength="44.2" lengthAdjust="spacingAndGlyphs">G1/2F</text>
</svg></body></html>
